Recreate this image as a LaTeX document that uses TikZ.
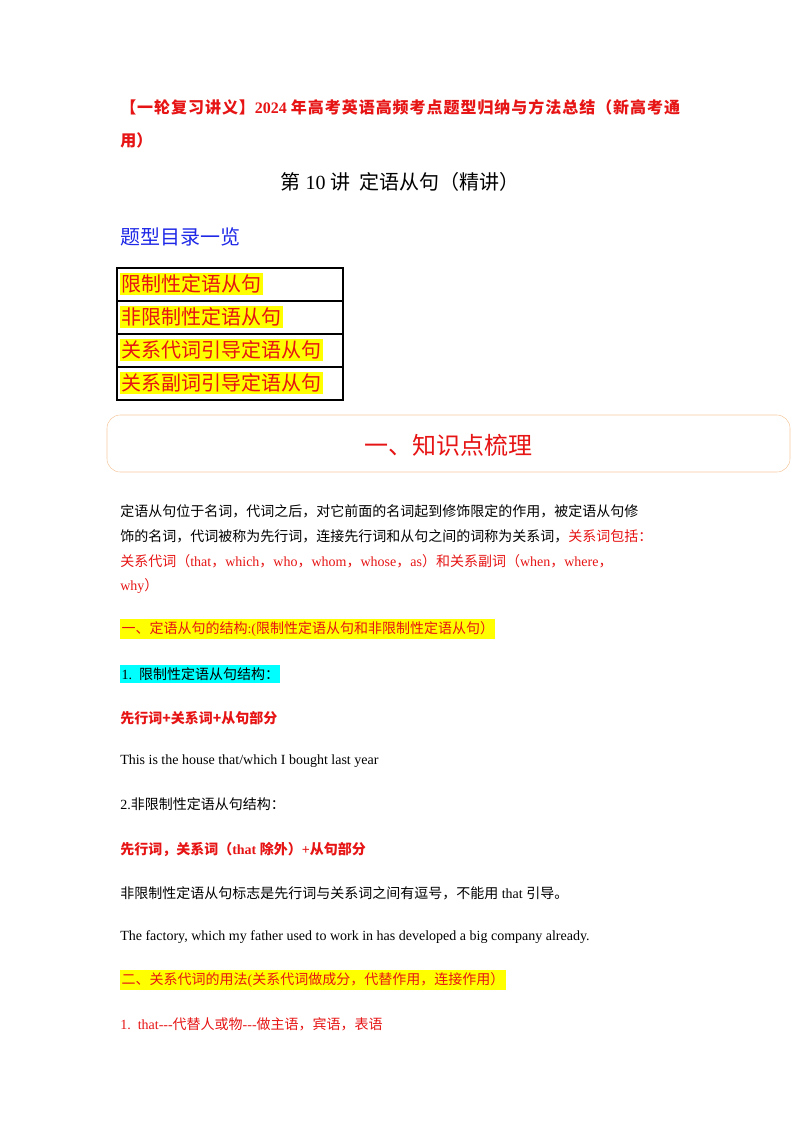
\documentclass[tikz,border=0pt]{standalone}
\usepackage{fontspec}
\setmainfont{Liberation Serif}
\newfontfamily\cjk{Noto Sans CJK SC}
\definecolor{rd}{RGB}{230,20,20}
\definecolor{bl}{RGB}{30,40,230}
\definecolor{hy}{RGB}{255,255,0}
\definecolor{hc}{RGB}{0,255,255}
\definecolor{bx}{RGB}{245,200,160}
\tikzset{
  txt/.style={anchor=west,inner sep=0pt,font=\fontsize{10.5}{12}\selectfont},
  red/.style={text=rd},
  hl/.style={fill=hy,inner ysep=2pt,inner xsep=1pt},
  item/.style={anchor=west,inner sep=1pt,fill=hy,text=rd,font=\cjk\fontsize{15}{17}\selectfont},
}
\begin{document}
\begin{tikzpicture}[x=0.75pt,y=-0.75pt]
\useasboundingbox (0,0) rectangle (800,1132);
\node[txt,red,font=\bfseries\fontsize{12}{14}\selectfont] (t1) at (120,107) {{\cjk\addfontfeatures{LetterSpace=6} 【一轮复习讲义】}2024 {\cjk\addfontfeatures{LetterSpace=6} 年高考英语高频考点题型归纳与方法总结（新高考通}};
\node[txt,red,font=\bfseries\fontsize{12}{14}\selectfont] (t2) at (120,140) {\cjk 用）};
\node[inner sep=0pt,font=\fontsize{15}{17}\selectfont] (t3) at (400,182) {{\cjk 第} 10 {\cjk 讲\ \ 定语从句（精讲）}};
\node[txt,text=bl,font=\cjk\fontsize{15}{17}\selectfont] (t4) at (120,237) {题型目录一览};
\draw[thick] (117,268) rectangle (343,400);
\foreach \y in {301,334,367} \draw[thick] (117,\y) -- (343,\y);
\node[item] (i1) at (120,284) {限制性定语从句};
\node[item] (i2) at (120,317) {非限制性定语从句};
\node[item] (i3) at (120,350) {关系代词引导定语从句};
\node[item] (i4) at (120,383) {关系副词引导定语从句};
\draw[bx,rounded corners=10pt] (107,415) rectangle (790,472);
\node[text=rd,font=\cjk\fontsize{18}{20}\selectfont] (h1) at (448,445) {一、知识点梳理};
\node[txt,font=\cjk\fontsize{10.5}{12}\selectfont] (p1) at (120,511) {定语从句位于名词，代词之后，对它前面的名词起到修饰限定的作用，被定语从句修};
\node[txt,font=\cjk\fontsize{10.5}{12}\selectfont] (p2) at (120,536) {饰的名词，代词被称为先行词，连接先行词和从句之间的词称为关系词，\textcolor{rd}{关系词包括：}};
\node[txt,red] (p3) at (120,561) {{\cjk 关系代词（}that{\cjk ，}which{\cjk ，}who{\cjk ，}whom{\cjk ，}whose{\cjk ，}as{\cjk ）和关系副词（}when{\cjk ，}where{\cjk ，}};
\node[txt,red] (p4) at (120,586) {why{\cjk ）}};
\node[txt,red,hl] (s1) at (120,629) {{\cjk 一、定语从句的结构}:({\cjk 限制性定语从句和非限制性定语从句）}};
\node[txt,hl,fill=hc] (s2) at (120,674) {1.\ \ {\cjk 限制性定语从句结构：}};
\node[txt,red,font=\cjk\bfseries\fontsize{10.5}{12}\selectfont] (s3) at (120,718) {先行词+关系词+从句部分};
\node[txt] (s4) at (120,761) {This is the house that/which I bought last year};
\node[txt] (s5) at (120,804) {2.{\cjk 非限制性定语从句结构：}};
\node[txt,red,font=\bfseries\fontsize{10.5}{12}\selectfont] (s6) at (120,849) {{\cjk 先行词，关系词（}that {\cjk 除外）}+{\cjk 从句部分}};
\node[txt] (s7) at (120,893) {{\cjk 非限制性定语从句标志是先行词与关系词之间有逗号，不能用} that {\cjk 引导。}};
\node[txt] (s8) at (120,937) {The factory, which my father used to work in has developed a big company already.};
\node[txt,red,hl] (s9) at (120,980) {{\cjk 二、关系代词的用法}({\cjk 关系代词做成分，代替作用，连接作用）}};
\node[txt,red] (s10) at (120,1024) {1.\ \ that{-}{-}{-}{\cjk 代替人或物}{-}{-}{-}{\cjk 做主语，宾语，表语}};
\end{tikzpicture}
\end{document}
